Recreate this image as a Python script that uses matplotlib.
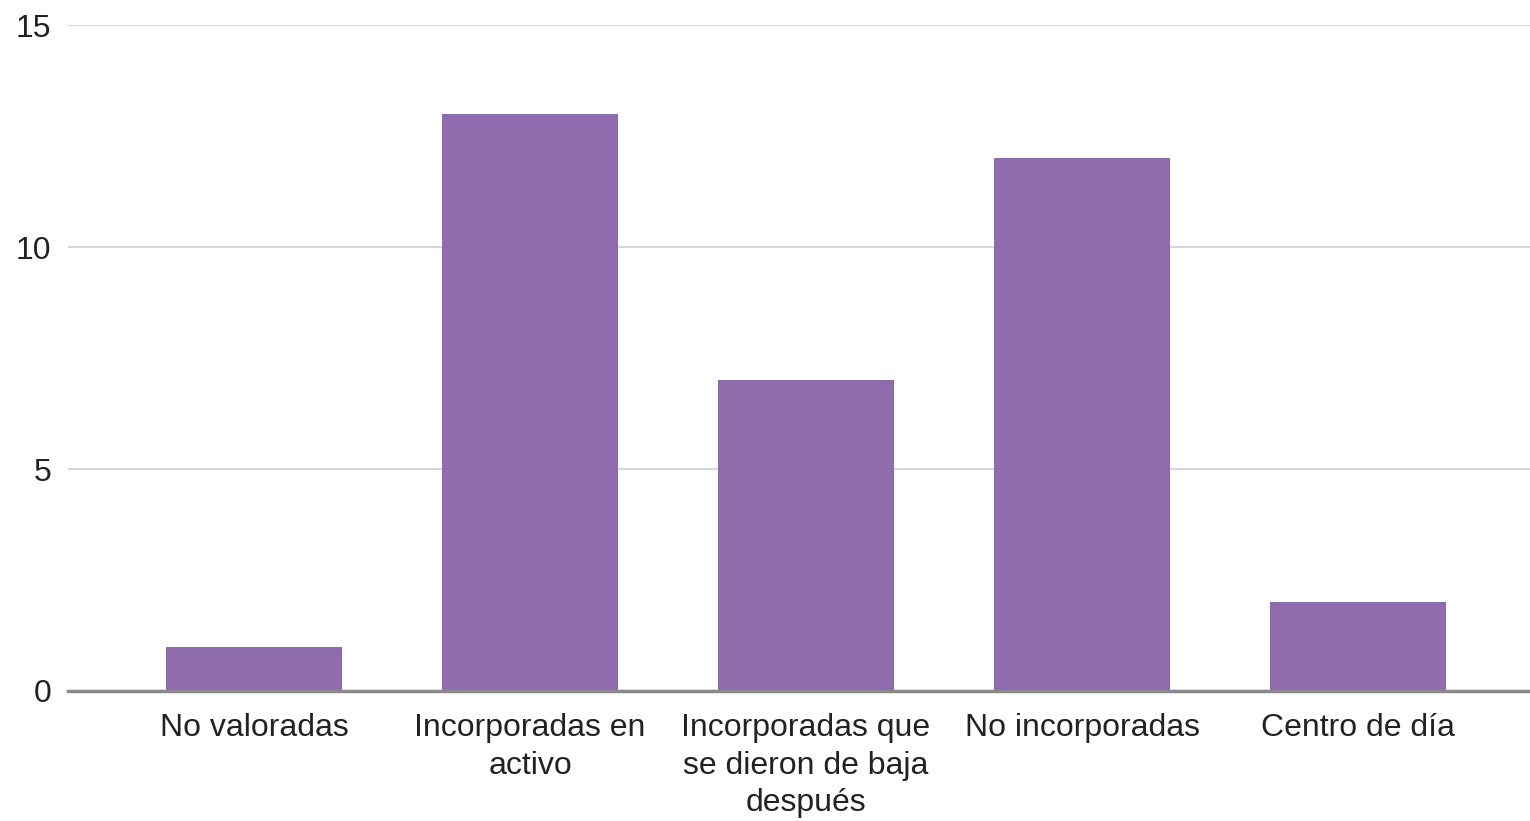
import matplotlib
matplotlib.use('Agg')
import matplotlib.pyplot as plt

categories = ["No valoradas", "Incorporadas en\nactivo", "Incorporadas que\nse dieron de baja\ndespués",
              "No incorporadas", "Centro de día"]
values = [1, 13, 7, 12, 2]
yticks = [0, 5, 10, 15]

plt.rcParams['font.family'] = ['Liberation Sans', 'DejaVu Sans']

fig = plt.figure(figsize=(15.3, 8.21), dpi=100)
ax = fig.add_axes([68 / 1530, 1 - 691 / 821, 1 - 68 / 1530, 666 / 821])

x = list(range(len(categories)))
ax.bar(x, values, width=0.64, color='#8e6bad', zorder=3)

ax.set_xlim(-0.674, 4.623)
ax.set_ylim(0, 15)
ax.set_yticks(yticks)
ax.set_xticks(x)
ax.set_xticklabels(categories, linespacing=1.32)
ax.tick_params(axis='both', length=0, labelsize=23, colors='#222222')
ax.tick_params(axis='x', pad=16)
ax.tick_params(axis='y', pad=12)
ax.grid(axis='y', color='#d6d6d6', linewidth=1.5, zorder=0)
for s in ['top', 'right', 'left']:
    ax.spines[s].set_visible(False)
ax.spines['bottom'].set_color('#8a8a8a')
ax.spines['bottom'].set_linewidth(2.5)
ax.spines['bottom'].set_zorder(4)

fig.savefig('out.png', dpi=100)
